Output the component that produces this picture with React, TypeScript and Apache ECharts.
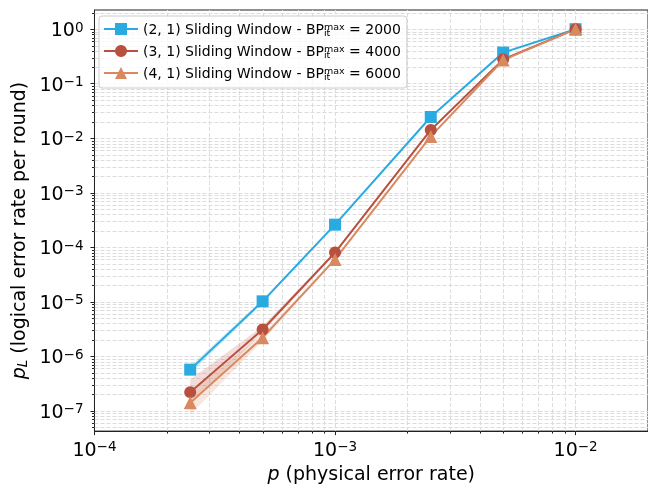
import React, { useEffect, useRef } from 'react';
import * as echarts from 'echarts';

// ---- data ----
const pValues = [2.5e-4, 5e-4, 1e-3, 2.5e-3, 5e-3, 1e-2];
const seriesNames = ['(2, 1) Sliding Window', '(3, 1) Sliding Window', '(4, 1) Sliding Window'];
const bpMax = [2000, 4000, 6000];
const sw21 = [5.7e-7, 1.02e-5, 2.6e-4, 2.45e-2, 0.373, 1.0];
const sw31 = [2.2e-7, 3.1e-6, 8.0e-5, 1.42e-2, 0.28, 1.0];
const sw41 = [1.4e-7, 2.2e-6, 6.0e-5, 1.08e-2, 0.272, 1.0];
const sw21Lo = [4.9e-7, 9.5e-6, 2.53e-4, 2.42e-2, 0.371, 1.0];
const sw21Hi = [6.6e-7, 1.09e-5, 2.67e-4, 2.48e-2, 0.375, 1.0];
const sw31Lo = [1.3e-7, 2.7e-6, 7.6e-5, 1.4e-2, 0.278, 1.0];
const sw31Hi = [3.7e-7, 3.6e-6, 8.4e-5, 1.44e-2, 0.282, 1.0];
const sw41Lo = [0.85e-7, 1.9e-6, 5.7e-5, 1.06e-2, 0.27, 1.0];
const sw41Hi = [2.2e-7, 2.55e-6, 6.3e-5, 1.1e-2, 0.274, 1.0];

const X_MIN = 1e-4;
const X_MAX = 2e-2;
const Y_MIN = 4.25e-8;
const Y_MAX = 2.25;

const FONT = 'DejaVu Sans';
const COLORS = ['#29abe2', '#b8503f', '#d9895f'];
const BANDS = ['rgba(41,171,226,0.25)', 'rgba(184,80,63,0.2)', 'rgba(217,137,95,0.2)'];
const GRID_COLOR = '#dcdcdc';
const SPINE = '#222';

function minorValues(lo: number, hi: number, eLo: number, eHi: number) {
  const out: number[] = [];
  for (let e = eLo; e <= eHi; e++) {
    for (let k = 2; k <= 9; k++) {
      const v = k * Math.pow(10, e);
      if (v > lo && v < hi) out.push(v);
    }
  }
  return out;
}
const xMinor = minorValues(X_MIN, X_MAX, -4, -2);
const yMinor = minorValues(Y_MIN, Y_MAX, -8, 0);

function expLabel(v: number) {
  const e = Math.log10(v);
  const r = Math.round(e);
  if (Math.abs(e - r) > 1e-6) return '';
  return `{b|10}{e|${r < 0 ? '\u2212' : ''}${Math.abs(r)}}`;
}

const tickRich = {
  b: { fontSize: 19, lineHeight: 19, fontFamily: FONT, color: '#000' },
  e: { fontSize: 13.5, lineHeight: 11, fontFamily: FONT, color: '#000', verticalAlign: 'top' },
};

export default function App() {
  const ref = useRef<HTMLDivElement>(null);
  useEffect(() => {
    if (!ref.current) return;
    const chart = echarts.init(ref.current, null, { renderer: 'svg' });
    const values = [sw21, sw31, sw41];
    const los = [sw21Lo, sw31Lo, sw41Lo];
    const his = [sw21Hi, sw31Hi, sw41Hi];
    const symbols = ['rect', 'circle', 'triangle'];
    const sizes = [12, 12, 13];

    const gridSeries: any = {
      type: 'custom',
      coordinateSystem: 'cartesian2d',
      data: [[1e-3, 1e-3]],
      z: 1,
      silent: true,
      clip: false,
      renderItem: (_params: any, api: any) => {
        const children: any[] = [];
        yMinor.forEach((v) => {
          const a = api.coord([X_MIN, v]);
          const b = api.coord([X_MAX, v]);
          const y = Math.round(a[1]) + 0.5;
          children.push({ type: 'line', shape: { x1: a[0], y1: y, x2: b[0], y2: y }, style: { stroke: GRID_COLOR, lineWidth: 1, lineDash: [4, 2] } });
          children.push({ type: 'line', shape: { x1: a[0] - 2.5, y1: y, x2: a[0], y2: y }, style: { stroke: SPINE, lineWidth: 1 } });
        });
        xMinor.forEach((v) => {
          const a = api.coord([v, Y_MIN]);
          const b = api.coord([v, Y_MAX]);
          const x = Math.round(a[0]) + 0.5;
          children.push({ type: 'line', shape: { x1: x, y1: a[1], x2: x, y2: b[1] }, style: { stroke: GRID_COLOR, lineWidth: 1, lineDash: [4, 2] } });
          children.push({ type: 'line', shape: { x1: x, y1: a[1], x2: x, y2: a[1] + 2.5 }, style: { stroke: SPINE, lineWidth: 1 } });
        });
        return { type: 'group', children };
      },
    };

    const bandSeries: any[] = [0, 1, 2].map((s) => ({
      type: 'custom',
      coordinateSystem: 'cartesian2d',
      data: [[1e-3, 1e-3]],
      z: 2,
      silent: true,
      renderItem: (_params: any, api: any) => {
        const top = pValues.map((p, i) => api.coord([p, his[s][i]]));
        const bot = pValues.map((p, i) => api.coord([p, los[s][i]])).reverse();
        return { type: 'polygon', shape: { points: top.concat(bot) }, style: { fill: BANDS[s] } };
      },
    }));

    const lineSeries: any[] = [0, 1, 2].map((s) => ({
      type: 'line',
      name: seriesNames[s],
      data: pValues.map((p, i) => [p, values[s][i]]),
      symbol: symbols[s],
      symbolSize: sizes[s],
      showSymbol: true,
      z: 3,
      lineStyle: { width: 2, color: COLORS[s] },
      itemStyle: { color: COLORS[s] },
      clip: false,
    }));

    const option: any = {
      animation: false,
      textStyle: { fontFamily: FONT },
      grid: { left: 92, top: 10, right: -4, bottom: 55, show: true, borderColor: SPINE, borderWidth: 1, backgroundColor: 'transparent' },
      legend: {
        data: seriesNames,
        orient: 'vertical',
        left: 99,
        top: 16,
        padding: [5, 6, 7, 4],
        itemGap: 6,
        itemWidth: 34,
        itemHeight: 15,
        backgroundColor: 'rgba(255,255,255,0.8)',
        borderColor: '#cccccc',
        borderWidth: 1,
        borderRadius: 3,
        selectedMode: false,
        formatter: (name: string) => {
          const i = seriesNames.indexOf(name);
          return `{n|${name} - BP}{sub|it}{sup|max}{n| = ${bpMax[i]}}`;
        },
        textStyle: {
          fontFamily: FONT,
          fontSize: 14,
          color: '#000',
          rich: {
            n: { fontSize: 14, lineHeight: 16, fontFamily: FONT, color: '#000' },
            sub: { fontSize: 9.5, lineHeight: 7.4, fontFamily: FONT, color: '#000', verticalAlign: 'bottom', width: 0 },
            sup: { fontSize: 9.5, lineHeight: 8.4, fontFamily: FONT, color: '#000', verticalAlign: 'top' },
          },
        },
      },
      xAxis: {
        type: 'log',
        logBase: 10,
        min: X_MIN,
        max: X_MAX,
        splitNumber: 8,
        name: '{i|p}{n| (physical error rate)}',
        nameLocation: 'middle',
        nameGap: 30,
        nameTextStyle: {
          fontSize: 19,
          color: '#000',
          rich: {
            i: { fontSize: 19, fontStyle: 'italic', fontFamily: FONT, color: '#000' },
            n: { fontSize: 19, fontFamily: FONT, color: '#000' },
          },
        },
        axisLine: { show: true, lineStyle: { color: SPINE, width: 1 } },
        axisTick: { show: true, inside: false, length: 4, lineStyle: { color: SPINE, width: 1 } },
        axisLabel: { show: true, margin: 8, formatter: expLabel, rich: tickRich, showMinLabel: true, showMaxLabel: false },
        splitLine: { show: true, showMinLine: false, showMaxLine: false, lineStyle: { color: GRID_COLOR, width: 1, type: [4, 2] } },
      },
      yAxis: {
        type: 'log',
        logBase: 10,
        min: Y_MIN,
        max: Y_MAX,
        splitNumber: 8,
        name: '{i|p}{s|L}{n| (logical error rate per round)}',
        nameLocation: 'middle',
        nameGap: 57,
        nameTextStyle: {
          fontSize: 19,
          color: '#000',
          padding: [0, 20, 0, 0],
          rich: {
            i: { fontSize: 19, lineHeight: 22, fontStyle: 'italic', fontFamily: FONT, color: '#000' },
            s: { fontSize: 13.5, lineHeight: 12, fontStyle: 'italic', fontFamily: FONT, color: '#000', verticalAlign: 'bottom' },
            n: { fontSize: 19, lineHeight: 22, fontFamily: FONT, color: '#000' },
          },
        },
        axisLine: { show: true, lineStyle: { color: SPINE, width: 1 } },
        axisTick: { show: true, inside: false, length: 4, lineStyle: { color: SPINE, width: 1 } },
        axisLabel: { show: true, margin: 11, formatter: expLabel, rich: tickRich, showMinLabel: false, showMaxLabel: false },
        splitLine: { show: true, showMinLine: false, showMaxLine: false, lineStyle: { color: GRID_COLOR, width: 1, type: [4, 2] } },
      },
      series: [gridSeries, ...bandSeries, ...lineSeries],
    };
    chart.setOption(option);
    return () => chart.dispose();
  }, []);
  return <div ref={ref} style={{ position: 'fixed', left: 0, top: 0, width: 648, height: 487 }} />;
}
